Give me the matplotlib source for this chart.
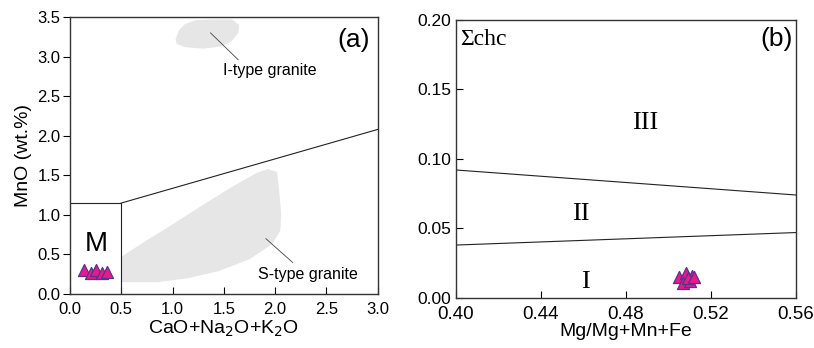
import numpy as np
import matplotlib.pyplot as plt
from matplotlib.patches import Polygon

plt.rcParams['font.family'] = ['Liberation Sans', 'DejaVu Sans']

# panel (a) data: CaO+Na2O+K2O vs MnO
a_x = [0.14, 0.20, 0.25, 0.31, 0.36]
a_y = [0.30, 0.27, 0.30, 0.27, 0.28]

# field outlines (a)
i_type_x = [1.03, 1.06, 1.12, 1.22, 1.38, 1.58, 1.65, 1.64, 1.58, 1.48, 1.30, 1.12, 1.04]
i_type_y = [3.22, 3.33, 3.41, 3.46, 3.47, 3.47, 3.40, 3.30, 3.20, 3.13, 3.10, 3.12, 3.16]
s_type_x = [0.50, 0.50, 0.70, 1.00, 1.30, 1.60, 1.82, 1.93, 2.02, 2.04, 2.06, 2.05, 1.97, 1.75, 1.45, 1.15, 0.85, 0.55]
s_type_y = [0.15, 0.47, 0.64, 0.88, 1.13, 1.37, 1.53, 1.58, 1.54, 1.30, 1.00, 0.80, 0.63, 0.44, 0.29, 0.20, 0.15, 0.15]
box_x = [0.0, 0.5, 0.5]
box_y = [1.15, 1.15, 0.0]
div_x = [0.5, 3.0]
div_y = [1.15, 2.08]

# panel (b) data: Mg/Mg+Mn+Fe vs sum chc
b_x = [0.505, 0.508, 0.511, 0.507, 0.510, 0.509, 0.512]
b_y = [0.015, 0.018, 0.016, 0.011, 0.012, 0.014, 0.015]
upper_x = [0.40, 0.56]
upper_y = [0.092, 0.074]
lower_x = [0.40, 0.56]
lower_y = [0.038, 0.047]

fig = plt.figure(figsize=(8.14, 3.48), dpi=100)
ax1 = fig.add_axes([0.086, 0.155, 0.378, 0.796])
ax2 = fig.add_axes([0.560, 0.144, 0.418, 0.799])

tri_face = '#e8198b'
tri_edge = '#55338f'
spine_c = '#333333'

# ---- panel (a)
ax1.add_patch(Polygon(np.column_stack([i_type_x, i_type_y]), closed=True,
                      facecolor='#e6e6e6', edgecolor='none'))
ax1.add_patch(Polygon(np.column_stack([s_type_x, s_type_y]), closed=True,
                      facecolor='#e6e6e6', edgecolor='none'))
ax1.plot(box_x, box_y, color='#222222', lw=0.8)
ax1.plot(div_x, div_y, color='#222222', lw=0.8)
ax1.plot([1.37, 1.64], [3.30, 2.96], color='#444444', lw=0.6)
ax1.plot([1.91, 2.17], [0.70, 0.40], color='#444444', lw=0.6)
ax1.text(1.95, 2.82, 'I-type granite', ha='center', va='center', fontsize=11.5)
ax1.text(2.32, 0.25, 'S-type granite', ha='center', va='center', fontsize=11.5)
ax1.text(0.26, 0.63, 'M', ha='center', va='center', fontsize=20)
ax1.text(2.92, 3.21, '(a)', ha='right', va='center', fontsize=19)
ax1.scatter(a_x, a_y, marker='^', s=75, c=tri_face, edgecolors=tri_edge,
            linewidths=0.9, zorder=5)
ax1.set_xlim(0, 3.0)
ax1.set_ylim(0, 3.5)
ax1.set_xticks(np.arange(0, 3.01, 0.5))
ax1.set_yticks(np.arange(0, 3.51, 0.5))
ax1.set_xticklabels(['%.1f' % v for v in np.arange(0, 3.01, 0.5)])
ax1.set_yticklabels(['%.1f' % v for v in np.arange(0, 3.51, 0.5)])
ax1.tick_params(axis='x', direction='in', length=5, labelsize=12, pad=6)
ax1.tick_params(axis='y', direction='out', length=5, labelsize=12, pad=2)
ax1.set_xlabel('CaO+Na$_2$O+K$_2$O', fontsize=14, labelpad=1)
ax1.set_ylabel('MnO (wt.%)', fontsize=14, labelpad=4)

# ---- panel (b)
ax2.plot(upper_x, upper_y, color='#222222', lw=0.8)
ax2.plot(lower_x, lower_y, color='#222222', lw=0.8)
serif = ['Liberation Serif', 'DejaVu Serif']
ax2.text(0.489, 0.126, 'III', ha='center', va='center', fontsize=19, family=serif)
ax2.text(0.459, 0.060, 'II', ha='center', va='center', fontsize=19, family=serif)
ax2.text(0.461, 0.0115, 'I', ha='center', va='center', fontsize=19, family=serif)
ax2.text(0.4019, 0.1856, '\u03a3chc', ha='left', va='center', fontsize=17, family=serif)
ax2.text(0.5586, 0.186, '(b)', ha='right', va='center', fontsize=19)
ax2.scatter(b_x, b_y, marker='^', s=75, c=tri_face, edgecolors=tri_edge,
            linewidths=0.9, zorder=5)
ax2.set_xlim(0.40, 0.56)
ax2.set_ylim(0, 0.20)
ax2.set_xticks(np.arange(0.40, 0.561, 0.04))
ax2.set_yticks(np.arange(0, 0.201, 0.05))
ax2.set_xticklabels(['%.2f' % v for v in np.arange(0.40, 0.561, 0.04)])
ax2.set_yticklabels(['%.2f' % v for v in np.arange(0, 0.201, 0.05)])
ax2.tick_params(axis='x', direction='in', length=5, labelsize=13.5, pad=6)
ax2.tick_params(axis='y', direction='in', length=5, labelsize=12.5)
ax2.set_xlabel('Mg/Mg+Mn+Fe', fontsize=14, labelpad=0)

for ax in (ax1, ax2):
    for sp in ax.spines.values():
        sp.set_color(spine_c)
        sp.set_linewidth(1.0)

fig.savefig('out.png', dpi=100)
